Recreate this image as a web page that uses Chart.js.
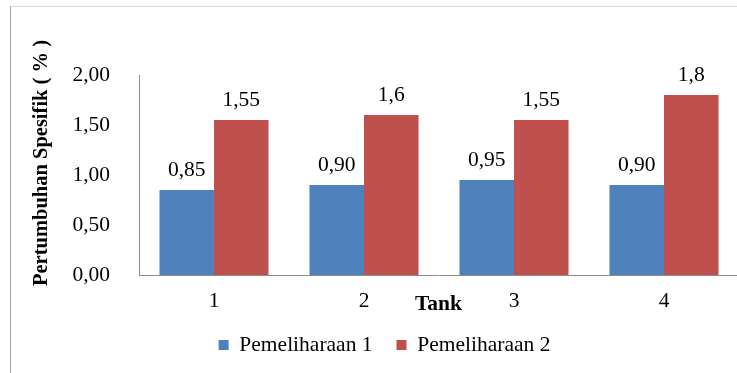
<!DOCTYPE html>
<html>
<head>
<meta charset="utf-8">
<script src="https://cdn.jsdelivr.net/npm/chart.js@4"></script>
<style>
  html, body { margin: 0; padding: 0; background: #fff; overflow: hidden; }
  #wrap { position: relative; width: 737px; height: 373px; overflow: hidden; }
  #frame { position: absolute; left: 10px; top: 6px; width: 740px; height: 380px;
           border-left: 1px solid #a6a6a6; border-top: 1px solid #d9d9d9; }
  #grafico { position: absolute; left: 0; top: 0; }
</style>
</head>
<body>
<div id="wrap">
  <div id="frame"></div>
  <canvas id="grafico" width="745" height="373"></canvas>
</div>
<script>
const tanks = ['1', '2', '3', '4'];
const pemeliharaan1 = [0.85, 0.90, 0.95, 0.90];
const pemeliharaan2 = [1.55, 1.6, 1.55, 1.8];
const seriesNames = ['Pemeliharaan 1', 'Pemeliharaan 2'];
const yTitle = 'Pertumbuhan Spesifik ( % )';
const xTitle = 'Tank';

const serif = '"Liberation Serif", "Times New Roman", serif';
const fs = 21.5;
const koma = (v, d) => (d == null ? String(v) : v.toFixed(d)).replace('.', ',');

// angka di atas batang + judul sumbu
const labelPlugin = {
    id: 'labelBatang',
    afterDatasetsDraw(chart) {
        const ctx = chart.ctx;
        ctx.save();
        ctx.fillStyle = '#000';
        ctx.font = fs + 'px ' + serif;
        ctx.textAlign = 'center';
        ctx.textBaseline = 'middle';
        chart.data.datasets.forEach((ds, i) => {
            chart.getDatasetMeta(i).data.forEach((bar, j) => {
                ctx.fillText(koma(ds.data[j], ds.digits), bar.x, bar.y - 20);
            });
        });
        ctx.font = 'bold ' + fs + 'px ' + serif;
        ctx.textAlign = 'left';
        ctx.fillText(xTitle, 415, 304);
        ctx.font = 'bold 20.5px ' + serif;
        ctx.translate(42, 163);
        ctx.rotate(-Math.PI / 2);
        ctx.textAlign = 'center';
        ctx.fillText(yTitle, 0, 0);
        ctx.restore();
    }
};

new Chart(document.getElementById('grafico'), {
    type: 'bar',
    data: {
        labels: tanks,
        datasets: [{
            label: seriesNames[0],
            data: pemeliharaan1,
            digits: 2,
            backgroundColor: '#4f81bd',
            categoryPercentage: 0.727,
            barPercentage: 1
        }, {
            label: seriesNames[1],
            data: pemeliharaan2,
            backgroundColor: '#c0504d',
            categoryPercentage: 0.727,
            barPercentage: 1
        }]
    },
    options: {
        responsive: false,
        animation: false,
        layout: { padding: { left: 30, right: 6, top: 75, bottom: 7.25 } },
        plugins: {
            legend: {
                position: 'bottom',
                labels: {
                    boxWidth: 10,
                    boxHeight: 10,
                    padding: 24,
                    color: '#000',
                    font: { family: serif, size: fs }
                }
            },
            tooltip: { enabled: false }
        },
        scales: {
            x: {
                grid: { display: false },
                border: { display: true, color: '#8c8c8c' },
                ticks: { color: '#000', padding: 5, font: { family: serif, size: fs } },
                afterFit: s => { s.height = 35.25; }
            },
            y: {
                min: 0,
                max: 2,
                grid: { display: false },
                border: { display: true, color: '#8c8c8c' },
                ticks: {
                    stepSize: 0.5,
                    padding: 21,
                    color: '#000',
                    font: { family: serif, size: fs },
                    callback: v => koma(v, 2)
                },
                afterFit: s => { s.width = 109; }
            }
        }
    },
    plugins: [labelPlugin]
});
</script>
</body>
</html>
